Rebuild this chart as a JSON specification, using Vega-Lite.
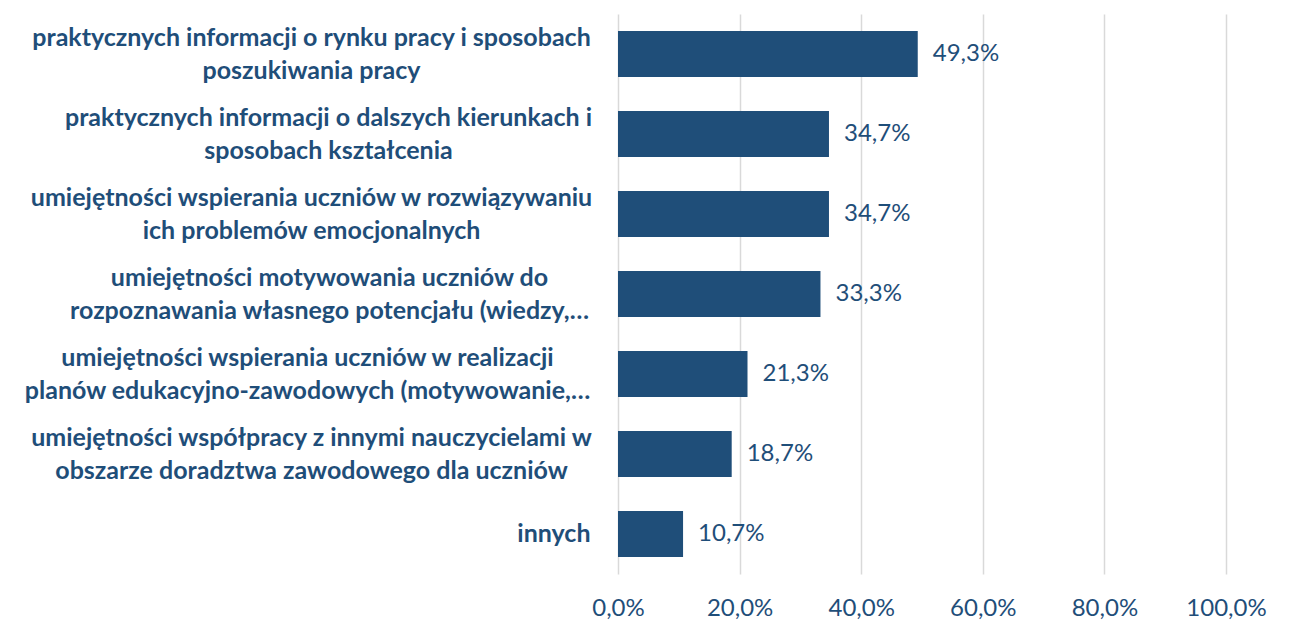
{
  "$schema": "https://vega.github.io/schema/vega-lite/v6.json",
  "autosize": {"type": "none"},
  "padding": {"left": 618, "top": 14, "right": 70, "bottom": 60},
  "width": 608,
  "height": 560,
  "config": {
    "locale": {"number": {"decimal": ",", "thousands": " ", "grouping": [3], "currency": ["", " zł"]}},
    "view": {"stroke": null},
    "font": "Lato"
  },
  "data": {
    "values": [
      {"kategoria": "praktycznych informacji o rynku pracy i sposobach|poszukiwania pracy", "wartosc": 0.493},
      {"kategoria": "praktycznych informacji o dalszych kierunkach i|sposobach kształcenia", "wartosc": 0.347},
      {"kategoria": "umiejętności wspierania uczniów w rozwiązywaniu|ich problemów emocjonalnych", "wartosc": 0.347},
      {"kategoria": "umiejętności motywowania uczniów do|rozpoznawania własnego potencjału (wiedzy,…", "wartosc": 0.333},
      {"kategoria": "umiejętności wspierania uczniów w realizacji|planów edukacyjno-zawodowych (motywowanie,…", "wartosc": 0.213},
      {"kategoria": "umiejętności współpracy z innymi nauczycielami w|obszarze doradztwa zawodowego dla uczniów", "wartosc": 0.187},
      {"kategoria": "innych", "wartosc": 0.107}
    ]
  },
  "encoding": {
    "y": {
      "field": "kategoria",
      "type": "nominal",
      "sort": null,
      "scale": {"paddingInner": 0.425, "paddingOuter": 0.2125},
      "axis": {
        "title": null,
        "domain": false,
        "ticks": false,
        "labelExpr": "split(datum.value, '|')",
        "labelFont": "Lato",
        "labelFontSize": 25,
        "labelFontWeight": "bold",
        "labelColor": "#1F4E79",
        "labelLineHeight": 33,
        "labelLimit": 700,
        "labelAlign": {"condition": {"test": "datum.value === 'innych'", "value": "right"}, "value": "center"},
        "labelOffset": {"condition": {"test": "datum.value === 'innych'", "value": 0}, "value": -16},
        "labelPadding": {
          "condition": [
            {"test": "datum.value === 'innych'", "value": 28},
            {"test": "indexof(datum.value, 'dalszych') >= 0", "value": 290},
            {"test": "indexof(datum.value, 'motywowania') >= 0", "value": 289},
            {"test": "indexof(datum.value, 'realizacji') >= 0", "value": 311}
          ],
          "value": 307
        }
      }
    },
    "x": {
      "field": "wartosc",
      "type": "quantitative",
      "scale": {"domain": [0, 1], "nice": false},
      "axis": {
        "title": null,
        "values": [0, 0.2, 0.4, 0.6, 0.8, 1],
        "format": ".1%",
        "domain": false,
        "ticks": false,
        "grid": true,
        "gridColor": "#d9d9d9",
        "gridWidth": 1.5,
        "labelFlush": false,
        "labelFont": "Lato",
        "labelFontSize": 24,
        "labelColor": "#1F4E79",
        "labelPadding": 22
      }
    }
  },
  "layer": [
    {"mark": {"type": "bar", "color": "#1F4E79"}},
    {
      "mark": {"type": "text", "align": "left", "dx": 15, "font": "Lato", "fontSize": 24, "color": "#1F4E79"},
      "encoding": {"text": {"field": "wartosc", "type": "quantitative", "format": ".1%"}}
    }
  ]
}
